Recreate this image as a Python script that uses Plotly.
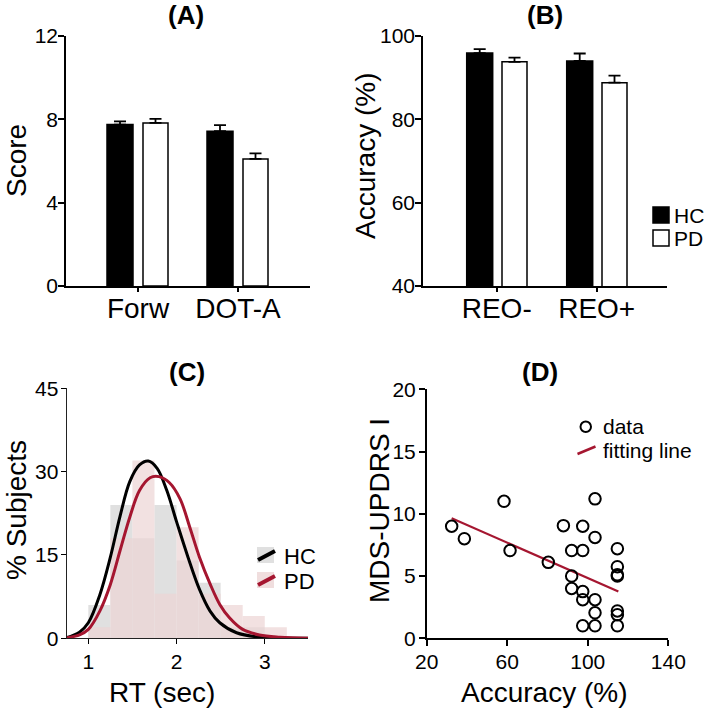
import plotly.graph_objects as go

W, H = 709, 710
FONT = "Liberation Sans, Arial, sans-serif"

# ---------------- data ----------------
a_categories = ["Forw", "DOT-A"]
a_hc = [7.75, 7.43]
a_hc_err = [0.15, 0.29]
a_pd = [7.83, 6.10]
a_pd_err = [0.19, 0.27]

b_categories = ["REO-", "REO+"]
b_hc = [95.9, 94.0]
b_hc_err = [0.95, 1.8]
b_pd = [93.8, 88.8]
b_pd_err = [1.0, 1.7]

c_bin_centers = [1.125, 1.375, 1.625, 1.875, 2.125, 2.375, 2.625, 2.875, 3.125]
c_hist_hc = [6, 24, 18, 24, 14, 10, 2, 2, 0]
c_hist_pd = [2, 18, 32, 8, 20, 8, 6, 4, 2]

c_hc_curve_x = [0.75, 0.9, 1.0, 1.13, 1.25, 1.36, 1.47, 1.58, 1.68, 1.78, 1.89, 2.0, 2.13, 2.26, 2.38, 2.49, 2.68, 2.94, 3.2, 3.5]
c_hc_curve_y = [0.1, 1.1, 2.8, 7.8, 14.6, 22.0, 28.2, 31.2, 31.9, 30.6, 26.6, 21.0, 14.6, 8.8, 4.9, 2.8, 1.0, 0.2, 0.05, 0.0]
c_pd_curve_x = [0.75, 0.9, 1.0, 1.13, 1.25, 1.36, 1.47, 1.58, 1.7, 1.8, 1.92, 2.04, 2.15, 2.26, 2.38, 2.49, 2.6, 2.75, 2.94, 3.17, 3.5]
c_pd_curve_y = [0.05, 0.6, 1.6, 4.9, 9.7, 15.8, 21.8, 26.6, 28.9, 29.1, 28.0, 25.1, 20.0, 14.6, 9.8, 6.1, 3.7, 1.6, 0.6, 0.2, 0.0]

d_accuracy = [32.4, 38.7, 58.4, 61.4, 80.4, 87.9, 92.0, 92.0, 92.0, 97.5, 97.5, 97.5, 97.5, 97.5,
              103.6, 103.6, 103.6, 103.6, 103.6, 114.7, 114.7, 114.7, 114.7, 114.7, 114.7, 114.7]
d_updrs = [9.0, 8.0, 11.0, 7.05, 6.1, 9.05, 7.05, 5.0, 4.0, 9.0, 7.05, 3.75, 3.1, 1.0,
           11.2, 8.1, 3.1, 2.05, 1.0, 7.2, 5.75, 5.1, 5.0, 2.2, 1.9, 1.0]
d_fit_x = [32.4, 115.2]
d_fit_y = [9.65, 3.75]

RED = "rgb(165,22,48)"


def px(x):
    return x / W


def py(y):
    return 1 - y / H


fig = go.Figure()

err_style = dict(type="data", symmetric=False, color="black", thickness=1.8, width=6)

# ---- Panel A ----
fig.add_trace(go.Bar(x=[0, 1], y=a_hc, width=0.26, offset=-0.31,
                     marker=dict(color="black", line=dict(color="black", width=1.5)),
                     error_y=dict(err_style, array=a_hc_err, arrayminus=[0, 0]),
                     xaxis="x", yaxis="y"))
fig.add_trace(go.Bar(x=[0, 1], y=a_pd, width=0.25, offset=0.05,
                     marker=dict(color="white", line=dict(color="black", width=1.5)),
                     error_y=dict(err_style, array=a_pd_err, arrayminus=[0, 0]),
                     xaxis="x", yaxis="y"))

# ---- Panel B ----
fig.add_trace(go.Bar(x=[0, 1], y=b_hc, width=0.26, offset=-0.30,
                     marker=dict(color="black", line=dict(color="black", width=1.5)),
                     error_y=dict(err_style, array=b_hc_err, arrayminus=[0, 0]),
                     xaxis="x2", yaxis="y2"))
fig.add_trace(go.Bar(x=[0, 1], y=b_pd, width=0.25, offset=0.053,
                     marker=dict(color="white", line=dict(color="black", width=1.5)),
                     error_y=dict(err_style, array=b_pd_err, arrayminus=[0, 0]),
                     xaxis="x2", yaxis="y2"))

# ---- Panel C ----
fig.add_trace(go.Bar(x=c_bin_centers, y=c_hist_hc, width=0.25, offset=-0.125,
                     marker=dict(color="rgb(224,224,224)", line=dict(width=0)),
                     xaxis="x3", yaxis="y3"))
fig.add_trace(go.Bar(x=c_bin_centers, y=c_hist_pd, width=0.25, offset=-0.125,
                     marker=dict(color="rgba(236,212,212,0.7)", line=dict(width=0)),
                     xaxis="x3", yaxis="y3"))
fig.add_trace(go.Scatter(x=c_hc_curve_x, y=c_hc_curve_y, mode="lines",
                         line=dict(color="black", width=3, shape="spline", smoothing=1.0),
                         xaxis="x3", yaxis="y3"))
fig.add_trace(go.Scatter(x=c_pd_curve_x, y=c_pd_curve_y, mode="lines",
                         line=dict(color=RED, width=3, shape="spline", smoothing=1.0),
                         xaxis="x3", yaxis="y3"))

# ---- Panel D ----
fig.add_trace(go.Scatter(x=d_fit_x, y=d_fit_y, mode="lines",
                         line=dict(color=RED, width=2.2), xaxis="x4", yaxis="y4"))
fig.add_trace(go.Scatter(x=d_accuracy, y=d_updrs, mode="markers",
                         marker=dict(symbol="circle-open", size=11.5, color="black",
                                     line=dict(width=2, color="black")),
                         xaxis="x4", yaxis="y4"))

axis_common = dict(showgrid=False, zeroline=False, showline=True, linecolor="black",
                   linewidth=1.5, ticks="outside", tickcolor="black", tickwidth=1.5,
                   automargin=False,
                   tickfont=dict(family=FONT, size=21, color="black"), fixedrange=True)
cat_font = dict(family=FONT, size=28, color="black")

layout = dict(
    width=W, height=H, margin=dict(l=0, r=0, t=0, b=0, pad=0),
    paper_bgcolor="white", plot_bgcolor="white", showlegend=False,
    barmode="overlay",
    font=dict(family=FONT, color="black"),
    xaxis=dict(axis_common, domain=[px(66), px(310)], range=[-0.72, 1.72], anchor="y",
               tickvals=[0, 1], ticktext=a_categories, ticklen=4, tickfont=cat_font,
               ticklabelstandoff=-7),
    yaxis=dict(axis_common, domain=[py(286), py(36)], range=[0, 12], anchor="x",
               tickvals=[0, 4, 8, 12], ticklen=6, ticklabelstandoff=-4),
    xaxis2=dict(axis_common, domain=[px(423), px(667)], range=[-0.737, 1.703], anchor="y2",
                tickvals=[0, 1], ticktext=b_categories, ticklen=4, tickfont=cat_font,
                ticklabelstandoff=-7),
    yaxis2=dict(axis_common, domain=[py(286), py(36)], range=[40, 100], anchor="x2",
                tickvals=[40, 60, 80, 100], ticklen=6, ticklabelstandoff=-4),
    xaxis3=dict(axis_common, domain=[px(66.7), px(308)], range=[0.755, 3.49], anchor="y3",
                tickvals=[1, 2, 3], ticklen=5, linewidth=1.2, tickwidth=1.2, linecolor="#222",
                ticklabelstandoff=-1),
    yaxis3=dict(axis_common, domain=[py(638.3), py(388.3)], range=[0, 45], anchor="x3",
                tickvals=[0, 15, 30, 45], ticklen=5, linewidth=1.2, tickwidth=1.2, linecolor="#222",
                ticklabelstandoff=-2),
    xaxis4=dict(axis_common, domain=[px(426.7), px(668.3)], range=[20, 140], anchor="y4",
                tickvals=[20, 60, 100, 140], ticklen=6, ticklabelstandoff=-2),
    yaxis4=dict(axis_common, domain=[py(638.3), py(389.3)], range=[0, 20], anchor="x4",
                tickvals=[0, 5, 10, 15, 20], ticklen=6, ticklabelstandoff=-1),
)
fig.update_layout(**layout)


def ann(text, x, y, size, bold=False, angle=0, xanchor="center", yanchor="middle", height=None):
    kw = {}
    if height is not None:
        kw["height"] = height
    fig.add_annotation(text=f"<b>{text}</b>" if bold else text, x=px(x), y=py(y),
                       xref="paper", yref="paper", showarrow=False, textangle=angle,
                       xanchor=xanchor, yanchor=yanchor,
                       font=dict(family=FONT, size=size, color="black"), **kw)


# panel titles
ann("(A)", 186, 15, 26, bold=True)
ann("(B)", 545, 15, 26, bold=True)
ann("(C)", 187, 372, 26, bold=True)
ann("(D)", 540, 372, 26, bold=True)

# axis titles
ann("Score", 16, 161, 28, angle=-90)
ann("Accuracy (%)", 365, 156, 28, angle=-90)
ann("% Subjects", 16, 510, 28, angle=-90)
ann("RT (sec)", 162, 692, 28)
ann("MDS-UPDRS I", 379, 510, 28, angle=-90)
ann("Accuracy (%)", 544, 692, 28)

# legend B
fig.add_shape(type="rect", xref="paper", yref="paper", x0=px(653), x1=px(669), y0=py(223), y1=py(207),
              fillcolor="black", line=dict(color="black", width=1.5))
fig.add_shape(type="rect", xref="paper", yref="paper", x0=px(653), x1=px(669), y0=py(246), y1=py(230),
              fillcolor="white", line=dict(color="black", width=1.5))
ann("HC", 672, 215, 21, xanchor="left", height=20)
ann("PD", 672, 238, 21, xanchor="left", height=20)

# legend C
fig.add_shape(type="rect", xref="paper", yref="paper", x0=px(257), x1=px(274), y0=py(563), y1=py(547),
              fillcolor="rgb(224,224,224)", line=dict(width=0))
fig.add_shape(type="line", xref="paper", yref="paper", x0=px(258), x1=px(275), y0=py(560), y1=py(551),
              line=dict(color="black", width=4))
fig.add_shape(type="rect", xref="paper", yref="paper", x0=px(257), x1=px(274), y0=py(588), y1=py(572),
              fillcolor="rgb(240,222,222)", line=dict(width=0))
fig.add_shape(type="line", xref="paper", yref="paper", x0=px(258), x1=px(275), y0=py(585), y1=py(576),
              line=dict(color=RED, width=4))
ann("HC", 282, 556, 22, xanchor="left", height=21)
ann("PD", 282, 581, 22, xanchor="left", height=21)

# legend D
fig.add_shape(type="circle", xref="paper", yref="paper", x0=px(580.5), x1=px(591), y0=py(432), y1=py(421.5),
              line=dict(color="black", width=2))
fig.add_shape(type="line", xref="paper", yref="paper", x0=px(577.5), x1=px(595.5), y0=py(454), y1=py(446.5),
              line=dict(color=RED, width=2.5))
ann("data", 601, 426, 21, xanchor="left", height=20)
ann("fitting line", 601, 450, 21, xanchor="left")

fig.write_html("out.html", config={"displayModeBar": False},
               post_script="document.body.style.margin='0';document.body.style.padding='0';"
                           "document.documentElement.style.overflow='hidden';")
